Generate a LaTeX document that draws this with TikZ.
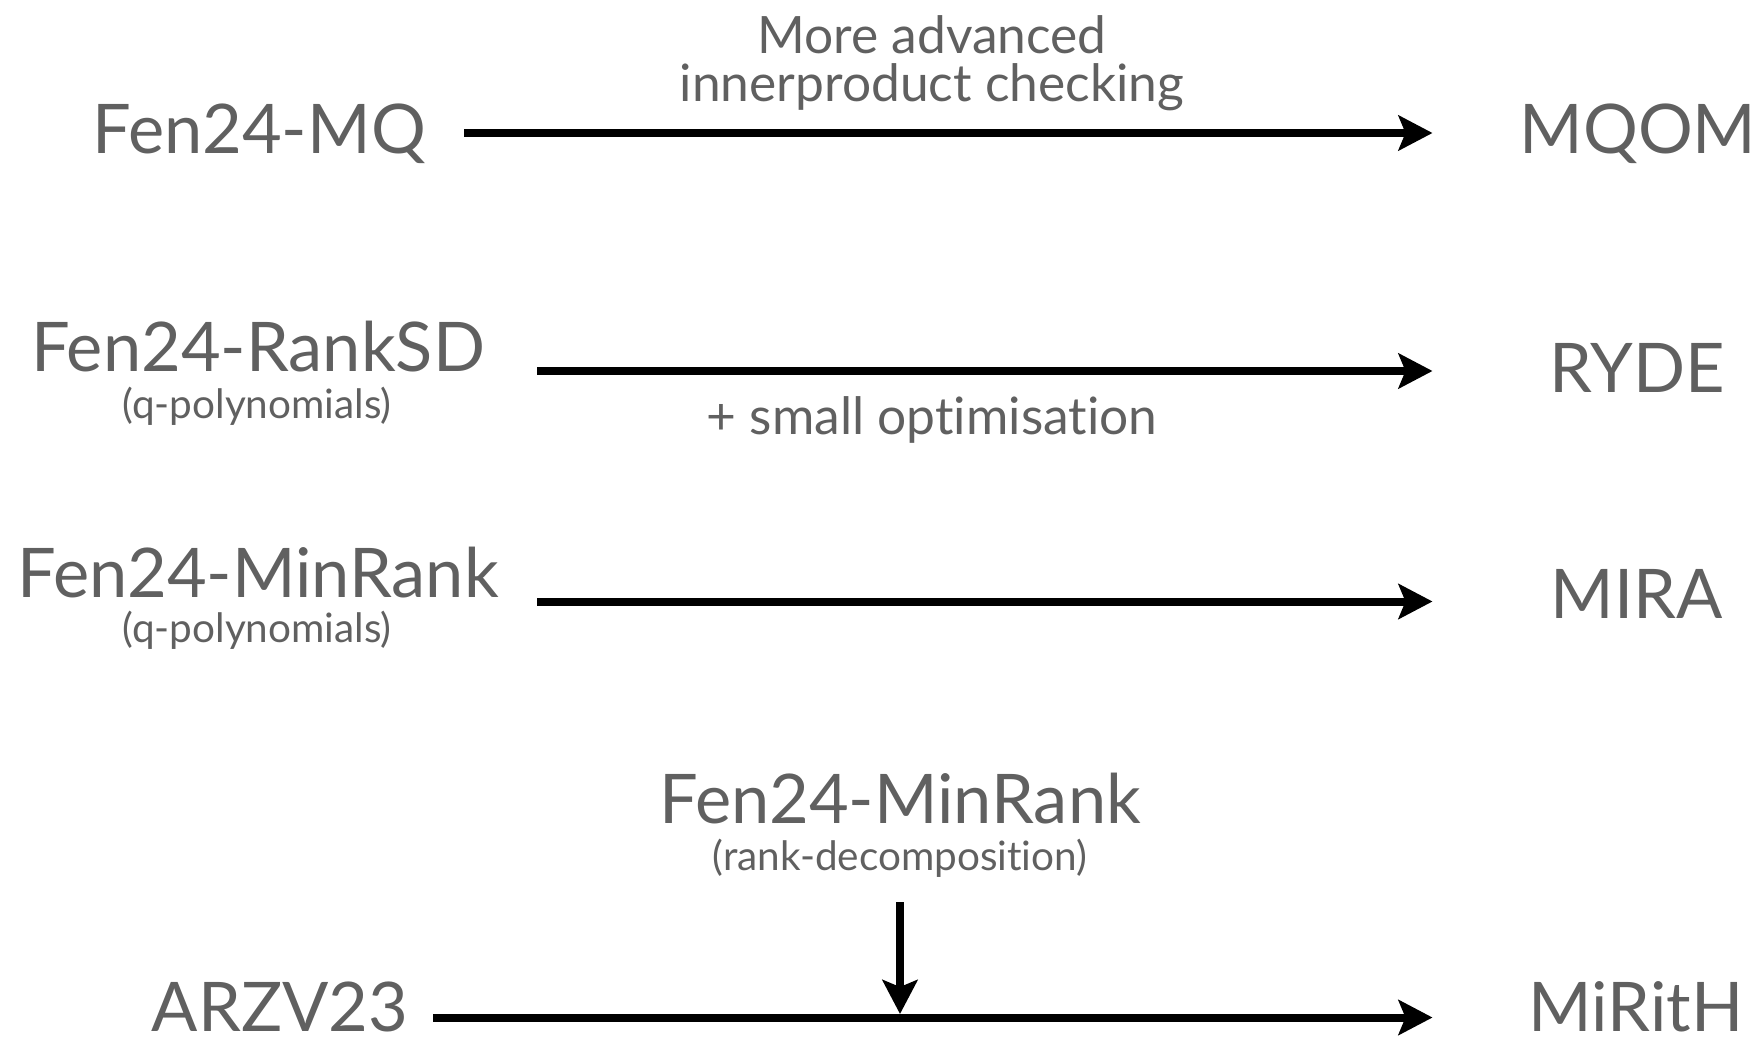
\documentclass[tikz,border=0pt]{standalone}
\usepackage{fontspec}
\setmainfont{Lato}[Ligatures={NoCommon}]
\usetikzlibrary{arrows.meta}
\definecolor{labelgray}{RGB}{96,96,96}
\tikzset{
  scheme/.style={anchor=base, inner sep=0pt, text=labelgray, font=\fontsize{68.5}{68.5}\selectfont},
  note/.style={anchor=base, inner sep=0pt, text=labelgray, font=\fontsize{51.5}{48}\selectfont, align=center},
  variant/.style={anchor=base, inner sep=0pt, text=labelgray, font=\fontsize{40.5}{40.5}\selectfont},
  link/.style={line width=8pt, -{Stealth[length=34pt,width=35pt,inset=7pt]}}
}
\begin{document}
\begin{tikzpicture}[x=1pt,y=-1pt]
\useasboundingbox (0,0) rectangle (1761,1040);

% source schemes
\node[scheme] (mq)      at (259,153.5) {Fen24-MQ};
\node[scheme] (ranksd)  at (258,372)   {Fen24-RankSD};
\node[variant] (ranksdv) at (257,418)  {(q-polynomials)};
\node[scheme] (minrank) at (258,597)   {Fen24-MinRank};
\node[variant] (minrankv) at (257,642) {(q-polynomials)};
\node[scheme] (arzv)    at (280,1031)  {ARZV23};

% resulting schemes
\node[scheme] (mqom)   at (1638,153.5) {MQOM};
\node[scheme] (ryde)   at (1637,392)   {RYDE};
\node[scheme] (mira)   at (1637,618)   {MIRA};
\node[scheme] (mirith) at (1636,1031)  {MiRitH};

% ingredient feeding into MiRitH
\node[scheme] (mrdec)   at (900,823) {Fen24-MinRank};
\node[variant] (mrdecv) at (900,870) {(rank-decomposition)};

% annotations (base anchor sits on the last line)
\node[note] (advanced) at (932,101.5) {More advanced\\innerproduct checking};
\node[note] (smallopt) at (932,434)   {+ small optimisation};

% arrow end points
\coordinate (s1) at (464,133);    \coordinate (e1) at (1432.5,133);
\coordinate (s2) at (537,371);    \coordinate (e2) at (1432.5,371);
\coordinate (s3) at (537,601.5);  \coordinate (e3) at (1432.5,601.5);
\coordinate (s4) at (433,1017.5); \coordinate (e4) at (1432.5,1017.5);
\coordinate (sv) at (900,902);    \coordinate (ev) at (900,1014);

\draw[link] (s1) -- (e1);
\draw[link] (s2) -- (e2);
\draw[link] (s3) -- (e3);
\draw[link] (s4) -- (e4);
\draw[link] (sv) -- (ev);
\end{tikzpicture}
\end{document}
